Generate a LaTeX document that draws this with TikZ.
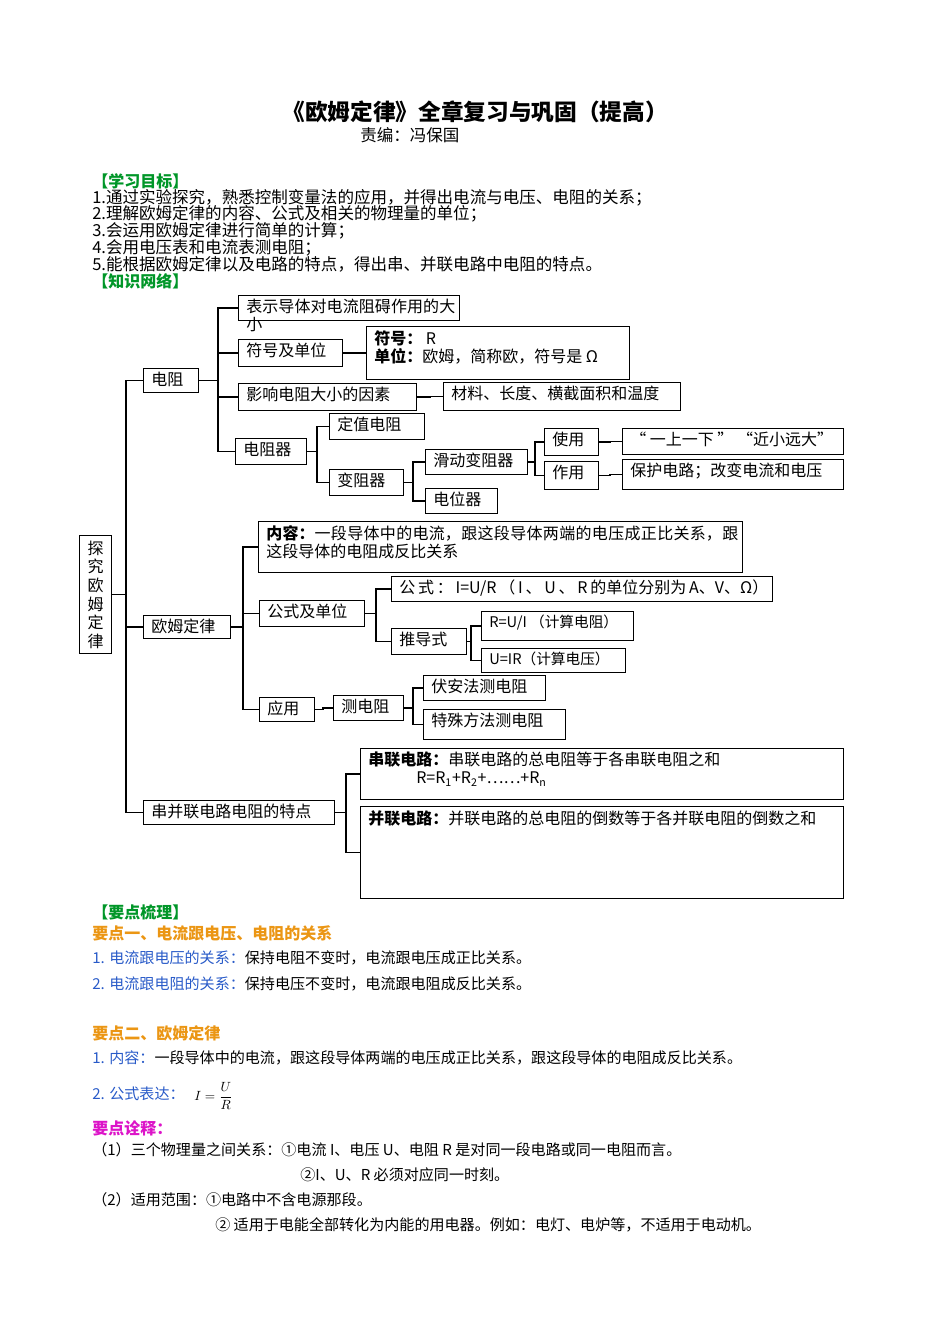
\documentclass[tikz,border=0pt]{standalone}
\usepackage{fontspec}
\setmainfont{Noto Sans CJK SC}
\XeTeXlinebreaklocale "zh"
\XeTeXlinebreakskip=0pt plus 1pt
\usetikzlibrary{positioning}
\definecolor{kgreen}{RGB}{0,150,40}
\definecolor{korange}{RGB}{235,150,20}
\definecolor{kblue}{RGB}{40,90,200}
\definecolor{kpink}{RGB}{220,20,200}
\tikzset{
  box/.style={draw, line width=0.9pt, anchor=north west, inner sep=0pt},
  lbl/.style={anchor=north west, inner sep=0pt, align=justify, font=\fontsize{12}{13.5}\selectfont},
  link/.style={line width=1.1pt},
  txt/.style={anchor=base west, inner sep=0pt, font=\fontsize{12.4}{13}\selectfont},
  low/.style={anchor=base west, inner sep=0pt, font=\fontsize{11.3}{13}\selectfont}
}
% box from (x1,y1) to (x2,y2) in pixels
\newcommand\bx[6]{%
  \pgfmathsetmacro\bw{(#4-#2)*0.75}\pgfmathsetmacro\bh{(#5-#3)*0.75}%
  \pgfmathsetmacro\tw{(#4-#2)*0.75-9}%
  \node[box, minimum width=\bw pt, minimum height=\bh pt] (#1) at (#2,#3) {};
  \node[lbl, text width=\tw pt] at ([shift={(6pt,-3pt)}]#1.north west) {#6};}
% elbow links from a parent to its children through a branch at x
\newcommand\br[3]{%
  \path (#2,0) coordinate (brx);
  \foreach \c in {#3} \draw[link] (#1.east) -- (brx |- #1.east) |- (\c.west);}
\begin{document}
\begin{tikzpicture}[x=0.75pt, y=-0.75pt]
\useasboundingbox (0,0) rectangle (950,1344);
% title
\node[font=\fontsize{17}{20}\selectfont\bfseries] (title) at (475,112) {《欧姆定律》全章复习与巩固（提高）};
\node[txt] (editor) at (360,142) {责编：冯保国};
% goals
\node[txt, text=kgreen, font=\fontsize{12}{13}\selectfont\bfseries] (goal) at (92,188) {【学习目标】};
\node[txt] (g1) at (92,204) {1.通过实验探究，熟悉控制变量法的应用，并得出电流与电压、电阻的关系；};
\node[txt] (g2) at (92,220) {2.理解欧姆定律的内容、公式及相关的物理量的单位；};
\node[txt] (g3) at (92,237) {3.会运用欧姆定律进行简单的计算；};
\node[txt] (g4) at (92,254) {4.会用电压表和电流表测电阻；};
\node[txt] (g5) at (92,271) {5.能根据欧姆定律以及电路的特点，得出串、并联电路中电阻的特点。};
\node[txt, text=kgreen, font=\fontsize{12}{13}\selectfont\bfseries] (net) at (92,288) {【知识网络】};
% knowledge network
\bx{meaning}{238}{295}{459}{320}{表示导体对电流阻碍作用的大小}
\bx{symunit}{238}{339}{342}{366}{符号及单位}
\bx{symbox}{366}{326}{629}{379}{\textbf{符号：} R\\\textbf{单位：}欧姆，简称欧，符号是 Ω}
\bx{res}{143}{368}{198}{392}{电阻}
\bx{factor}{238}{383}{416}{410}{影响电阻大小的因素}
\bx{material}{443}{382}{680}{410}{材料、长度、横截面积和温度}
\bx{fixed}{329}{413}{424}{439}{定值电阻}
\bx{resistor}{235}{438}{306}{464}{电阻器}
\bx{use}{544}{428}{598}{455}{使用}
\bx{useinfo}{622}{428}{843}{454}{“\ 一上一下\ ”\ “近小远大”}
\bx{slide}{425}{449}{527}{474}{滑动变阻器}
\bx{role}{544}{461}{598}{489}{作用}
\bx{roleinfo}{622}{459}{843}{489}{保护电路；改变电流和电压}
\bx{varres}{329}{469}{403}{495}{变阻器}
\bx{pot}{425}{488}{497}{513}{电位器}
\bx{content}{258}{521}{742}{572}{\textbf{内容：}一段导体中的电流，跟这段导体两端的电压成正比关系，跟这段导体的电阻成反比关系}
\bx{ohm}{143}{615}{230}{638}{欧姆定律}
\bx{formula}{259}{600}{364}{626}{公式及单位}
\bx{formbox}{391}{576}{772}{601}{公 式 ： I=U/R （ I 、 U 、 R 的单位分别为 A、V、Ω）}
\bx{derive}{391}{628}{466}{654}{推导式}
\bx{rui}{481}{611}{633}{640}{\fontsize{11}{13}\selectfont R=U/I （计算电阻）}
\bx{uir}{481}{648}{625}{672}{\fontsize{11}{13}\selectfont U=IR（计算电压）}
\bx{apply}{259}{697}{314}{721}{应用}
\bx{measure}{333}{695}{403}{720}{测电阻}
\bx{voltam}{423}{675}{545}{700}{伏安法测电阻}
\bx{special}{423}{709}{565}{739}{特殊方法测电阻}
\bx{series}{360}{748}{843}{799}{\textbf{串联电路：}串联电路的总电阻等于各串联电阻之和\\\hspace*{3em}R=R\textsubscript{1}+R\textsubscript{2}+……+R\textsubscript{n}}
\bx{spfeat}{143}{800}{334}{824}{串并联电路电阻的特点}
\bx{parallel}{360}{806}{843}{898}{\textbf{并联电路：}并联电路的总电阻的倒数等于各并联电阻的倒数之和}
\node[box, minimum width=24pt, minimum height=88.5pt] (root) at (79,535) {};
\node[font=\fontsize{12}{14}\selectfont, align=center, inner sep=0pt] at (root.center) {探\\究\\欧\\姆\\定\\律};
% links
\br{root}{126}{res,ohm,spfeat}
\br{res}{218}{meaning,symunit,factor,resistor}
\br{symunit}{354}{symbox}
\br{factor}{430}{material}
\br{resistor}{317}{fixed,varres}
\br{varres}{413}{slide,pot}
\br{slide}{535}{use,role}
\br{use}{610}{useinfo}
\br{role}{610}{roleinfo}
\br{ohm}{243}{content,formula,apply}
\br{formula}{376}{formbox,derive}
\br{derive}{471}{rui,uir}
\br{apply}{323}{measure}
\br{measure}{413}{voltam,special}
\br{spfeat}{346}{series,parallel}
% key points
\node[txt, text=kgreen, font=\fontsize{12}{13}\selectfont\bfseries] (keys) at (92,918) {【要点梳理】};
\node[txt, text=korange, font=\fontsize{12}{13}\selectfont\bfseries] (k1) at (92,939) {要点一、电流跟电压、电阻的关系};
\node[low] (k11) at (92,963) {\textcolor{kblue}{1. 电流跟电压的关系：}保持电阻不变时，电流跟电压成正比关系。};
\node[low] (k12) at (92,989) {\textcolor{kblue}{2. 电流跟电阻的关系：}保持电压不变时，电流跟电阻成反比关系。};
\node[txt, text=korange, font=\fontsize{12}{13}\selectfont\bfseries] (k2) at (92,1039) {要点二、欧姆定律};
\node[low] (k21) at (92,1063) {\textcolor{kblue}{1. 内容：}一段导体中的电流，跟这段导体两端的电压成正比关系，跟这段导体的电阻成反比关系。};
\node[low] (k22) at (92,1099) {\textcolor{kblue}{2. 公式表达：}};
\node[anchor=west, inner sep=0pt] (frac) at (194,1096) {$I=\displaystyle\frac{U}{R}$};
\node[txt, text=kpink, font=\fontsize{12}{13}\selectfont\bfseries] (note) at (92,1134) {要点诠释：};
\node[low] (n1) at (92,1155) {（1）三个物理量之间关系：①电流 I、电压 U、电阻 R 是对同一段电路或同一电阻而言。};
\node[low] (n1b) at (300,1180) {②I、U、R 必须对应同一时刻。};
\node[low] (n2) at (92,1205) {（2）适用范围：①电路中不含电源那段。};
\node[low] (n2b) at (215,1230) {② 适用于电能全部转化为内能的用电器。例如：电灯、电炉等，不适用于电动机。};
\end{tikzpicture}
\end{document}
